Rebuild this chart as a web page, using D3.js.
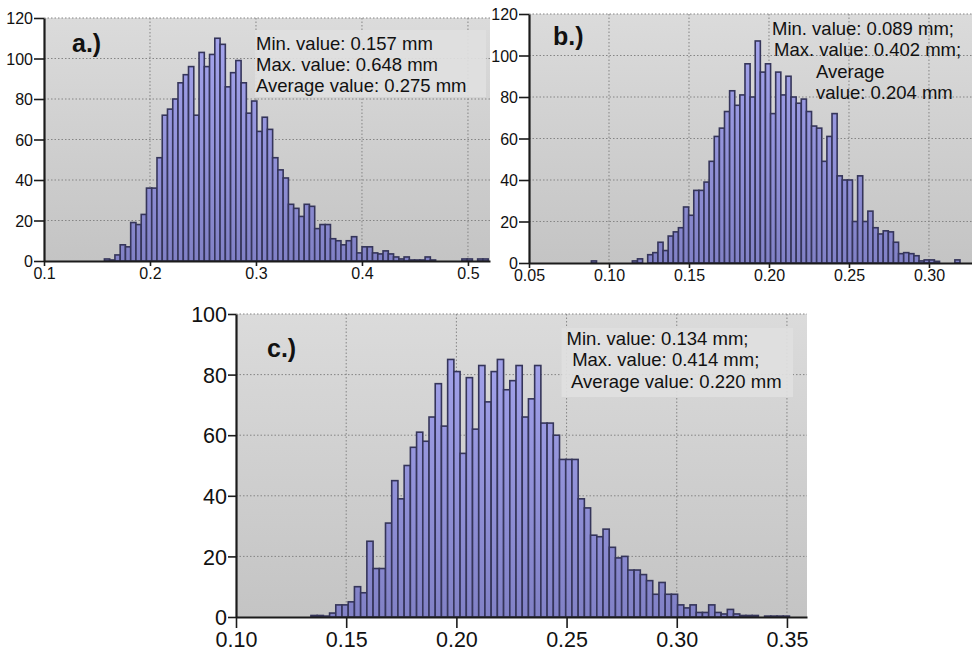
<!DOCTYPE html>
<html><head><meta charset="utf-8">
<script src="https://cdn.jsdelivr.net/npm/d3@7/dist/d3.min.js"></script>
<style>
body{margin:0;background:#fff;}
svg{display:block;font-family:"Liberation Sans",Arial,Helvetica,sans-serif;}
</style>
</head><body>
<svg id="chart" width="972" height="654"></svg>
<script>
// ---------------- data ----------------
// panel a
const aBinStart = 0.157;
const aBinWidth = 0.00496;
const aCounts = [1,0.5,3,8,7,19,18,23,36,36,51,72,75,80,88,92,96,72,103,96,102,110,107,86,93,99,88,73,79,64,71,65,51,45,41,28,26,22,28,27,16,18,18,11,10,8,10,12,4,7,7,4,3.5,5,3.5,2,1,2,0.5,0.5,0.5,2,0.5,0,0,0,0,0,1,1,0,1,1];
const aXTicks = [0.1,0.2,0.3,0.4,0.5];
const aYTicks = [0,20,40,60,80,100,120];
const aLabel = "a.)";
const aNotes = ["Min. value: 0.157 mm","Max. value: 0.648 mm","Average value: 0.275 mm"];

// panel b
const bBinStart = 0.089;
const bBinWidth = 0.0032;
const bCounts = [1,0,0,0,0,0,0,0,1,2,0,4,5,10,6,13,15,17,27,23,35,35,39,49,61,65,73,83,76,81,96,80,107,92,96,72,92,81,90,80,77,79,73,66,65,49,61,72,42,40,40,20,42,20,25,17,14,15.5,15,10,4.5,5,4.5,3.5,1,1.5,1.5,0.8,0,0,0,1.5];
const bXTicks = [0.05,0.10,0.15,0.20,0.25,0.30];
const bYTicks = [0,20,40,60,80,100,120];
const bLabel = "b.)";
const bNotes = ["Min. value: 0.089 mm;","Max. value: 0.402 mm;","Average","value: 0.204 mm"];

// panel c
const cBinStart = 0.134;
const cBinWidth = 0.00282;
const cCounts = [0.5,0.5,0.3,1.3,4,4,5,10,8,25,16,16,31,45,39,50,56,61,58,66,77,63,85,81,54,79,62,83,71,81,85,75,78,83,66,72,83,64,64,60,52,52,52,39,36,27,26.5,29,23,19.5,20,15.5,15.5,14,12,7.5,11.4,7.5,7.5,4,3,4,1.5,1.5,4,1.5,1,2.5,1,0.5,0.5,0.5,0,0.3,0.3,0.3,0.3];
const cXTicks = [0.10,0.15,0.20,0.25,0.30,0.35];
const cYTicks = [0,20,40,60,80,100];
const cLabel = "c.)";
const cNotes = ["Min. value: 0.134 mm;"," Max. value: 0.414 mm;"," Average value: 0.220 mm"];

// ---------------- drawing ----------------
const svg = d3.select("#chart");
const defs = svg.append("defs");

function drawPanel(cfg){
  const x = d3.scaleLinear().domain(cfg.xDomain).range([cfg.left, cfg.right]);
  const y = d3.scaleLinear().domain([0, cfg.yMax]).range([cfg.bottom, cfg.top]);
  const id = cfg.id;

  const bg = defs.append("linearGradient").attr("id","bg"+id)
    .attr("gradientUnits","userSpaceOnUse").attr("x1",0).attr("x2",0)
    .attr("y1",cfg.top).attr("y2",cfg.bottom);
  bg.append("stop").attr("offset",0).attr("stop-color","#dbdbdb");
  bg.append("stop").attr("offset",1).attr("stop-color","#c4c4c4");

  const bf = defs.append("linearGradient").attr("id","bf"+id)
    .attr("gradientUnits","userSpaceOnUse").attr("x1",0).attr("x2",0)
    .attr("y1",cfg.top).attr("y2",cfg.bottom);
  bf.append("stop").attr("offset",0).attr("stop-color","#a7a7f0");
  bf.append("stop").attr("offset",1).attr("stop-color","#8181c6");

  defs.append("clipPath").attr("id","clip"+id).append("rect")
    .attr("x",cfg.left).attr("y",cfg.top-2)
    .attr("width",cfg.right-cfg.left).attr("height",cfg.bottom-cfg.top+2);

  const g = svg.append("g");
  g.append("rect").attr("x",cfg.left).attr("y",cfg.top)
    .attr("width",cfg.right-cfg.left).attr("height",cfg.bottom-cfg.top)
    .attr("fill",`url(#bg${id})`);

  // grid
  g.append("g").selectAll("line").data(cfg.yTicks.filter(d=>d>0)).join("line")
    .attr("x1",cfg.left).attr("x2",cfg.right)
    .attr("y1",d=>y(d)).attr("y2",d=>y(d))
    .attr("stroke","#858585").attr("stroke-width",1).attr("stroke-dasharray","1.5,2");
  g.append("g").selectAll("line").data(cfg.xTicks.filter(d=>d>cfg.xDomain[0]+1e-9)).join("line")
    .attr("x1",d=>x(d)).attr("x2",d=>x(d))
    .attr("y1",cfg.top).attr("y2",cfg.bottom)
    .attr("stroke","#858585").attr("stroke-width",1).attr("stroke-dasharray","1.5,2");

  // note box
  if (cfg.box){
    g.append("rect").attr("x",cfg.box[0]).attr("y",cfg.box[1])
      .attr("width",cfg.box[2]).attr("height",cfg.box[3])
      .attr("fill","#e0e0e0").attr("opacity",0.92);
  }

  // bars
  const bins = cfg.counts.map((c,i)=>({x0:cfg.start+i*cfg.width, x1:cfg.start+(i+1)*cfg.width, c:c}));
  g.append("g").attr("clip-path",`url(#clip${id})`)
    .selectAll("rect").data(bins.filter(b=>b.c>0)).join("rect")
    .attr("x",d=>x(d.x0)).attr("width",d=>x(d.x1)-x(d.x0))
    .attr("y",d=>y(d.c)).attr("height",d=>y(0)-y(d.c))
    .attr("fill",`url(#bf${id})`)
    .attr("stroke","#35355a").attr("stroke-width",1.6);

  // axes
  const ya = d3.axisLeft(y).tickValues(cfg.yTicks).tickSize(cfg.yTickLen)
    .tickSizeOuter(0).tickPadding(1).tickFormat(d3.format("d"));
  const yg = g.append("g").attr("transform",`translate(${cfg.left},0)`).call(ya);
  const xa = d3.axisBottom(x).tickValues(cfg.xTicks).tickSize(cfg.xTickLen)
    .tickSizeOuter(0).tickPadding(cfg.xPad).tickFormat(cfg.xFmt);
  const xg = g.append("g").attr("transform",`translate(0,${cfg.bottom})`).call(xa);
  [yg,xg].forEach(a=>{
    a.select(".domain").attr("stroke","#1b1b1b").attr("stroke-width",2.2);
    a.selectAll(".tick line").attr("stroke","#1b1b1b").attr("stroke-width",1.6);
    a.selectAll(".tick text").attr("fill","#111").attr("font-size",cfg.tickFont)
      .attr("font-family","'Liberation Sans',Arial,sans-serif");
  });
  yg.selectAll(".tick text").attr("dy","0.36em");

  // panel label
  g.append("text").attr("x",cfg.labelPos[0]).attr("y",cfg.labelPos[1])
    .attr("font-size",cfg.labelFont).attr("font-weight","bold").attr("fill","#111")
    .text(cfg.label);

  // notes
  g.append("g").selectAll("text").data(cfg.notes).join("text")
    .attr("x",(d,i)=>cfg.notePos[i][0]).attr("y",(d,i)=>cfg.notePos[i][1])
    .attr("font-size",18.5).attr("fill","#111").attr("xml:space","preserve")
    .style("white-space","pre")
    .text(d=>d);
}

drawPanel({id:"a", counts:aCounts, start:aBinStart, width:aBinWidth,
  xDomain:[0.1,0.5208], yMax:120, left:44, right:490, top:18, bottom:261,
  xTicks:aXTicks, yTicks:aYTicks, xFmt:d3.format(".1f"),
  yTickLen:10, xTickLen:5, xPad:2, tickFont:16,
  label:aLabel, labelPos:[72,52], labelFont:25,
  notes:aNotes, notePos:[[256,49.5],[256,71],[256,92]], box:[255,30,231,67]});

drawPanel({id:"b", counts:bCounts, start:bBinStart, width:bBinWidth,
  xDomain:[0.05,0.3269], yMax:120, left:529, right:972, top:14, bottom:263,
  xTicks:bXTicks, yTicks:bYTicks, xFmt:d3.format(".2f"),
  yTickLen:10, xTickLen:5, xPad:2, tickFont:16,
  label:bLabel, labelPos:[553,45], labelFont:25,
  notes:bNotes, notePos:[[772,35],[774,56],[816,77.5],[816,99]], box:null});

drawPanel({id:"c", counts:cCounts, start:cBinStart, width:cBinWidth,
  xDomain:[0.10,0.3591], yMax:100, left:236, right:807, top:314, bottom:617,
  xTicks:cXTicks, yTicks:cYTicks, xFmt:d3.format(".2f"),
  yTickLen:8, xTickLen:11, xPad:4, tickFont:21.5,
  label:cLabel, labelPos:[267,357], labelFont:25,
  notes:cNotes, notePos:[[566.5,345],[567,366],[567,387.5]], box:[561.5,328,231.5,69]});
</script>
</body></html>
